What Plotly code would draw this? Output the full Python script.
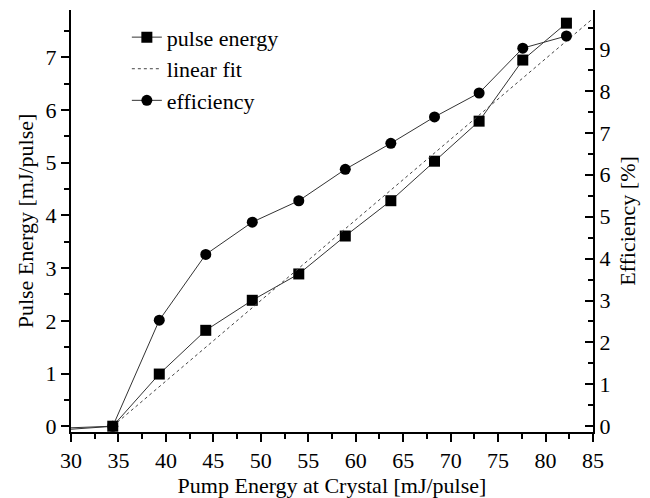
import plotly.graph_objects as go

# Data
pump = [34.4, 39.3, 44.2, 49.1, 54.0, 58.9, 63.7, 68.3, 73.0, 77.6, 82.2]
pulse_energy = [0.0, 0.99, 1.82, 2.39, 2.89, 3.61, 4.28, 5.03, 5.79, 6.95, 7.65]
efficiency = [0.0, 2.53, 4.1, 4.87, 5.38, 6.13, 6.75, 7.38, 7.95, 9.02, 9.31]

fit_x = [34.4, 85.0]
fit_y = [0.0, 7.74]

# below-threshold segment (values at the left edge of the axis)
lead_x = [30.0, 34.4]
lead_pulse = [-0.03, 0.0]
lead_eff = [-0.07, 0.0]

FONT = "Liberation Serif"
LINE = "#333333"

fig = go.Figure()

fig.add_trace(go.Scatter(
    x=lead_x, y=lead_pulse, mode="lines", line=dict(color=LINE, width=1),
    showlegend=False, hoverinfo="skip"))
fig.add_trace(go.Scatter(
    x=lead_x, y=lead_eff, mode="lines", line=dict(color=LINE, width=1),
    showlegend=False, hoverinfo="skip", yaxis="y2"))

fig.add_trace(go.Scatter(
    x=pump, y=pulse_energy, mode="lines+markers", name="pulse energy",
    line=dict(color=LINE, width=1),
    marker=dict(symbol="square", size=11, color="black", line=dict(width=0))))
fig.add_trace(go.Scatter(
    x=fit_x, y=fit_y, mode="lines", name="linear fit",
    line=dict(color="#444444", width=1, dash="dot")))
fig.add_trace(go.Scatter(
    x=pump, y=efficiency, mode="lines+markers", name="efficiency", yaxis="y2",
    line=dict(color=LINE, width=1),
    marker=dict(symbol="circle", size=11, color="black", line=dict(width=0))))

axis_common = dict(
    showgrid=False, zeroline=False, showline=True, linecolor="black", linewidth=2,
    tickcolor="black", tickwidth=2, automargin=False,
    tickfont=dict(family=FONT, size=22, color="black"),
)

fig.update_layout(
    width=650, height=498,
    margin=dict(l=71, r=57, t=10, b=66),
    paper_bgcolor="white", plot_bgcolor="white",
    font=dict(family=FONT, size=22, color="black"),
    showlegend=True,
    legend=dict(x=0.107, y=0.985, xanchor="left", yanchor="top",
                bgcolor="rgba(0,0,0,0)", font=dict(family=FONT, size=22),
                tracegroupgap=0, itemwidth=30),
    xaxis=dict(
        range=[30, 85], dtick=5, tick0=30, ticks="outside", ticklen=8,
        minor=dict(dtick=2.5, ticks="outside", ticklen=5, tickcolor="black", tickwidth=1.5),
        title=dict(text="Pump Energy at Crystal [mJ/pulse]", font=dict(family=FONT, size=22), standoff=6),
        **axis_common),
    yaxis=dict(
        range=[-0.11, 7.9], dtick=1, tick0=0, ticks="outside", ticklen=8,
        minor=dict(dtick=0.5, ticks="outside", ticklen=5, tickcolor="black", tickwidth=1.5),
        title=dict(text="Pulse Energy [mJ/pulse]", font=dict(family=FONT, size=22), standoff=6),
        **axis_common),
    yaxis2=dict(
        range=[-0.136, 9.93], dtick=1, tick0=0, overlaying="y", side="right",
        ticks="inside", ticklen=8,
        minor=dict(dtick=0.5, ticks="inside", ticklen=5, tickcolor="black", tickwidth=1.5),
        title=dict(text="Efficiency [%]", font=dict(family=FONT, size=22), standoff=10),
        **axis_common),
)

fig.write_html("out.html", config={"displayModeBar": False},
               post_script="document.body.style.margin='0';")
